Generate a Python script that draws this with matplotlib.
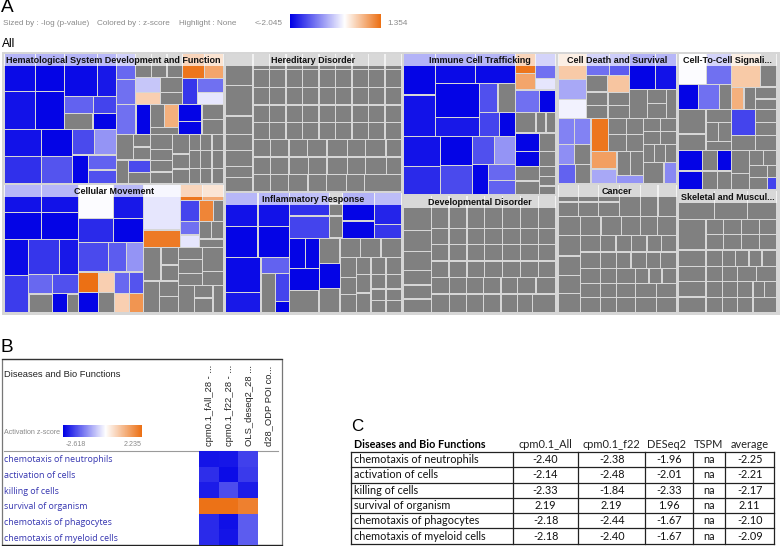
import numpy as np
import matplotlib
matplotlib.use("Agg")
import matplotlib.pyplot as plt
from matplotlib.colors import LinearSegmentedColormap, TwoSlopeNorm
from matplotlib.patches import Rectangle

G = None  # no z-score: grey tile


def H(*a):
    return ("h", list(zip(a[0::2], a[1::2])))


def V(*a):
    return ("v", list(zip(a[0::2], a[1::2])))


def R(*w):
    return ("h", [(x, G) for x in w])


def C(*w):
    return ("v", [(x, G) for x in w])


def E(n):
    return R(*([1] * n))


# Tile trees: weights are the tile sizes (-log p), leaves are z-scores
HEMATOLOGICAL = H(
    337, V(226, H(95, V(113, -1.95, 113, -1.9), 87, V(113, -2.0, 113, -2.0),
                  155, V(128, H(98, -1.95, 57, -1.85),
                         98, H(86, V(52, -1.25, 46, G), 69, V(52, -1.5, 46, -2.0)))),
           162, H(112, V(82, -1.9, 80, -1.65), 93, V(82, -2.0, 80, -1.36),
                  132, V(77, H(68, -1.45, 64, -0.85),
                         85, H(50, -2.0, 82, V(45, -1.25, 40, -1.4))))),
    323, V(153, H(58, V(76, -1.2, 74, -1.15),
                  142, V(70, R(48, 47, 47),
                         80, H(75, V(43, -0.45, 37, 0.45), 67, C(43, 37))),
                  123, V(73, H(65, 1.3, 58, 0.85),
                         77, H(45, -1.6, 78, V(40, -1.15, 37, -0.2)))),
           88, H(60, -1.15, 43, -2.0, 85, V(67, H(43, G, 42, 0.75), 20, G),
                 70, V(49, -2.0, 38, -2.0), 65, C(43, 44)),
           147, H(103, V(77, H(50, G, 48, C(37, 38)),
                         70, H(35, G, 65, V(38, -1.45, 32, G))),
                  65, C(43, 30, 33, 32),
                  50, C(55, 42, 40),
                  102, V(45, E(3), 50, E(3), 42, E(3)))),
)

HEREDITARY = H(
    83, C(93, 90, 55, 47, 47, 32, 40),
    447, V(48, E(9), 52, E(9), 52, E(9), 51, E(9), 52, E(9), 51, R(47, 50, 50, 53, 55, 50, 55, 42),
           52, R(47, 50, 53, 50, 55, 50, 57, 40), 50, R(47, 50, 53, 50, 55, 50, 100)),
)

CELLULAR = H(
    420, H(223, V(162, H(112, V(83, -1.9, 79, -2.0), 111, V(83, -1.9, 79, -2.0)),
                  218, H(75, V(108, -1.95, 110, -1.55),
                         148, V(106, H(92, -1.6, 56, -1.85),
                                112, V(57, H(70, -1.2, 78, -1.4),
                                       55, H(70, G, 45, -2.0, 33, G))))),
           197, V(172, H(107, V(100, -0.03, 72, -1.7), 90, V(100, -1.85, 72, -2.0)),
                  208, V(88, H(90, -1.45, 54, -1.3, 53, -0.85),
                         120, H(60, V(60, 1.35, 60, -2.0), 50, V(60, 0.45, 60, G),
                                87, V(65, H(44, -1.2, 43, -1.36), 55, H(44, 0.45, 43, 1.0)))))),
    240, V(188, H(110, V(135, -0.2, 53, 1.25),
                  130, V(48, H(67, 1.3, 63, 0.8),
                         140, H(57, V(62, -1.5, 40, -1.15, 38, -0.2),
                                73, V(62, H(43, 1.15, 30, G), 52, E(2), 26, G)))),
           192, H(105, V(95, H(52, G, 53, C(48, 45)), 90, H(47, G, 58, C(45, 45))),
                  135, V(110, H(72, C(33, 38, 33), 63, C(68, 40)),
                         78, H(47, G, 56, C(36, 42), 32, G)))),
)

INFLAMMATORY = H(
    192, V(193, H(98, V(100, -1.9, 93, -2.0), 94, V(100, -1.9, 93, -2.0)),
           165, H(107, V(105, -1.95, 60, -1.85),
                  85, V(48, -1.25, 117, H(43, G, 42, V(85, -1.5, 32, -2.0))))),
    338, V(136, H(160, V(70, H(121, -1.65, 39, C(33, 37)), 66, H(121, -1.5, 39, G)),
                  178, H(98, V(85, -2.0, 51, -2.0), 80, V(95, -1.75, 41, -1.6))),
           222, H(153, H(90, V(90, H(50, -2.0, 40, -2.0), 67, -2.0, 65, G),
                         63, V(77, G, 73, -2.0, 72, G)),
                  185, V(57, E(3),
                         165, H(50, C(60, 52, 53), 43, C(52, 55, 58),
                                45, C(52, 43, 35, 35), 47, C(52, 43, 35, 35))))),
)

IMMUNE = H(
    335, V(250, H(97, V(125, -2.0, 125, -1.9),
                  238, V(90, H(120, -1.95, 118, -1.95),
                         160, H(131, V(102, -2.0, 58, -1.85),
                                107, V(88, H(55, -1.4, 52, G), 72, H(59, -1.5, 48, -2.0))))),
           175, H(112, V(90, -1.9, 85, -1.7), 96, V(88, -2.0, 87, -1.45),
                  127, V(85, H(65, -1.4, 62, -0.85),
                         90, H(47, -2.0, 80, V(47, -1.2, 43, -1.25))))),
    122, V(110, H(60, V(58, 1.3, 50, 0.85),
                  62, V(75, -1.15, 35, -0.2)),
           68, H(72, -1.15, 50, -2.0),
           62, R(62, 30, 30),
           185, H(72, V(55, -2.0, 45, -2.0, 45, G, 40, G), 50, C(55, 45, 30, 30, 25))),
)

DEVELOPMENTAL = H(
    83, C(103, 63, 57, 43, 42, 40),
    374, V(98, E(7), 48, E(7), 49, E(7), 50, E(7), 48, R(55, 50, 52, 52, 50, 55, 60),
           55, R(55, 50, 52, 52, 50, 45, 70)),
)

CELL_DEATH = V(
    195, H(85, V(78, 0.5, 60, -0.7, 57, -0.1),
           127, V(65, H(67, -1.15, 60, -1.3),
                  50, H(63, G, 64, 0.55), 40, E(2), 40, E(2)),
           140, V(108, H(78, -2.0, 62, -1.9),
                  87, H(53, G, 57, C(42, 45), 30, G))),
    193, H(98, V(77, H(50, -1.0, 48, -1.0), 60, H(50, -0.9, 48, G), 56, H(52, -1.25, 46, G)),
           157, V(97, H(52, 1.3, 105, V(47, E(2), 50, E(2))),
                  96, H(77, V(53, 0.9, 43, -0.7),
                        80, V(73, E(2), 23, -0.85))),
           97, V(37, E(2), 40, E(2), 53, E(3), 63, H(60, G, 37, -0.95))),
)

CANCER = V(
    97, H(120, V(50, E(2), 43, E(2)), 63, V(50, G, 43, G), 62, G, 52, G, 55, G),
    57, R(66, 60, 60, 55, 51, 55),
    232, H(66, C(62, 58, 55, 57),
           286, V(50, R(59, 45, 45, 45, 42, 44), 50, R(59, 47, 42, 44, 42, 46),
                  44, R(59, 47, 54, 40, 38, 42), 42, R(59, 47, 54, 62, 58),
                  46, R(59, 47, 54, 62, 58))),
)

CELL_TO_CELL = V(
    167, H(161, V(92, H(85, -0.03, 76, -1.15),
                  75, H(61, -2.0, 62, -1.15, 38, G)),
           137, V(100, H(87, 0.5, 50, G),
                  67, H(37, 0.75, 35, G, 65, C(35, 32)))),
    123, H(161, H(83, C(73, 50), 78, V(38, G, 58, E(2), 27, G)),
           137, H(72, V(78, -1.5, 45, G), 65, C(38, 40, 45))),
    115, H(73, V(60, -2.0, 55, -2.0),
           88, V(60, H(45, G, 43, -2.0), 55, E(2)),
           54, C(70, 50),
           83, V(46, E(2), 38, R(55, 28), 36, H(55, G, 28, -1.5))),
)

SKELETAL = V(
    88, R(108, 100, 90),
    92, H(83, G, 215, V(45, E(4), 45, E(4))),
    190, H(83, C(50, 46, 47, 47),
           215, V(50, R(50, 40, 40, 40, 45), 47, R(50, 46, 58, 61),
                  48, R(50, 46, 46, 35, 38), 45, R(50, 46, 46, 73))),
)

CATEGORY_NAMES = [
    ["Hematological System Development and Function", "Cellular Movement"],
    ["Hereditary Disorder", "Inflammatory Response"],
    ["Immune Cell Trafficking", "Developmental Disorder"],
    ["Cell Death and Survival", "Cancer"],
    ["Cell-To-Cell Signali...", "Skeletal and Muscul..."],
]
CATEGORY_TREES = [
    [HEMATOLOGICAL, CELLULAR],
    [HEREDITARY, INFLAMMATORY],
    [IMMUNE, DEVELOPMENTAL],
    [CELL_DEATH, CANCER],
    [CELL_TO_CELL, SKELETAL],
]
COLUMN_SIZES = [221.5, 178, 154.5, 120.5, 100.5]
UPPER_SIZES = [131, 139, 142, 131, 137]
LOWER_SIZES = [129, 121, 118, 129, 123]

Z_MIN_A, Z_MAX_A = -2.045, 1.354
Z_MIN_B, Z_MAX_B = -2.618, 2.235

FUNCTIONS = ["chemotaxis of neutrophils", "activation of cells", "killing of cells",
             "survival of organism", "chemotaxis of phagocytes", "chemotaxis of myeloid cells"]
CPM_ALL = [-2.40, -2.14, -2.33, 2.19, -2.18, -2.18]
CPM_F22 = [-2.38, -2.48, -1.84, 2.19, -2.44, -2.40]
DESEQ2 = [-1.96, -2.01, -2.33, 1.96, -1.67, -1.67]
AVERAGE = [-2.25, -2.21, -2.17, 2.11, -2.10, -2.09]
HEAT_LABELS = ["cpm0.1_fAll_28 - ...", "cpm0.1_f22_28 - ...", "OLS_deseq2_28 ...", "d28_ODP POI co..."]
TABLE_HEAD = ["Diseases and Bio Functions", "cpm0.1_All", "cpm0.1_f22", "DESeq2", "TSPM", "average"]

cmap = LinearSegmentedColormap.from_list(
    "z", [(0, 0, 230 / 255), (1, 1, 1), (236 / 255, 112 / 255, 20 / 255)])
norm_a = TwoSlopeNorm(0, Z_MIN_A, Z_MAX_A)
norm_b = TwoSlopeNorm(0, Z_MIN_B, Z_MAX_B)

SANS = "Liberation Sans"
fig = plt.figure(figsize=(7.8, 5.46), dpi=100)
ax = fig.add_axes([0, 0, 1, 1])
ax.set_xlim(0, 780)
ax.set_ylim(546, 0)
ax.axis("off")


def px(v):
    return v * 0.72


def layout(node, x, y, w, h):
    if not isinstance(node, tuple):
        col = (0.5, 0.5, 0.5) if node is None else cmap(norm_a(node))
        inset = 0.65 if node is None else 0.55
        ax.add_patch(Rectangle((x + inset, y + inset), max(w - 2 * inset, 0.2), max(h - 2 * inset, 0.2),
                               fc=col, ec="none", lw=0))
        return
    kind, kids = node
    tot = sum(k[0] for k in kids)
    for wt, child in kids:
        if kind == "h":
            d = w * wt / tot
            layout(child, x, y, d, h)
            x += d
        else:
            d = h * wt / tot
            layout(child, x, y, w, d)
            y += d


# Panel A
ax.text(1, 8, "A", fontsize=px(19), family=SANS, va="center", ha="left")
grey = "#8a8a8a"
for xt, t in [(3, "Sized by : -log (p-value)"), (97, "Colored by : z-score"),
              (179, "Highlight : None"), (255, "<-2.045"), (387, "1.354")]:
    ax.text(xt, 23.5, t, fontsize=px(8.1), color=grey, family=SANS, va="center", ha="left")
ramp_a = np.linspace(Z_MIN_A, Z_MAX_A, 256)[None, :]
ax.imshow(ramp_a, cmap=cmap, norm=norm_a, extent=(289.5, 380, 28.5, 15), aspect="auto", zorder=2)
ax.text(2, 44, "All", fontsize=px(12), family=SANS, va="center", ha="left")

ax.add_patch(Rectangle((1.5, 51.5), 778, 263.5, fc="#d6d6d6", ec="none"))
x0 = 3.0
for i, cw in enumerate(COLUMN_SIZES):
    y0 = 53.0
    for sz, name, tree in zip([UPPER_SIZES[i], LOWER_SIZES[i]], CATEGORY_NAMES[i], CATEGORY_TREES[i]):
        layout(tree, x0 + 1.0, y0 + 0.6, cw - 2.0, sz - 1.2)
        ax.add_patch(Rectangle((x0 + 1.0, y0 + 0.6), cw - 2.0, 12.5, fc="white", ec="none",
                               alpha=0.7, zorder=3))
        ax.text(x0 + cw / 2, y0 + 7.6, name, fontsize=px(9.0), fontweight="bold", family=SANS,
                ha="center", va="center", zorder=4, color="#111111")
        y0 += sz
    x0 += cw

# Panel B
ax.text(1, 348, "B", fontsize=px(19), family=SANS, va="center", ha="left")
ax.add_patch(Rectangle((1.5, 359), 280.5, 186, fc="none", ec="#777777", lw=0.9))
ax.plot([1.5, 282], [359, 359], color="#333333", lw=0.9)
ax.plot([1.5, 282], [545, 545], color="#222222", lw=0.9)
ax.text(4.5, 374.5, "Diseases and Bio Functions", fontsize=px(9.4), family=SANS, va="center", ha="left",
        color="#222222")
ax.text(4.5, 432, "Activation z-score", fontsize=px(7.2), family=SANS, va="center", ha="left", color=grey)
ramp_b = np.linspace(Z_MIN_B, Z_MAX_B, 256)[None, :]
ax.imshow(ramp_b, cmap=cmap, norm=norm_b, extent=(63.3, 142, 437, 425), aspect="auto", zorder=2)
ax.text(76, 444, "-2.618", fontsize=px(7.2), family=SANS, va="center", ha="center", color=grey)
ax.text(133, 444, "2.235", fontsize=px(7.2), family=SANS, va="center", ha="center", color=grey)
ax.plot([4, 278], [450.7, 450.7], color="#9a9a9a", lw=0.8)
heat = np.array([CPM_ALL, CPM_F22, DESEQ2], dtype=float).T
ax.imshow(heat, cmap=cmap, norm=norm_b, extent=(199.3, 258.3, 545, 451), aspect="auto",
          interpolation="nearest", zorder=2)
for k, lab in enumerate(HEAT_LABELS):
    ax.text(210 + k * 19.6, 446, lab, rotation=90, fontsize=px(9.4), family=SANS, va="bottom", ha="center",
            color="#222222")
for k, f in enumerate(FUNCTIONS):
    ax.text(4.5, 459.8 + k * 15.65, f, fontsize=px(8.85), family="Open Sans", va="center", ha="left",
            color="#3535b0")

# Panel C
ax.text(351, 426.5, "C", fontsize=px(17), family=SANS, va="center", ha="left")
col_edges = [351, 512.7, 578.3, 645, 692.7, 725, 774.3]
row_edges = [451.7, 467.3, 482.7, 498.3, 513.3, 528.3, 544.3]
for xe in col_edges:
    ax.plot([xe, xe], [row_edges[0], row_edges[-1]], color="#222222", lw=0.9)
for ye in row_edges:
    ax.plot([col_edges[0], col_edges[-1]], [ye, ye], color="#222222", lw=0.9)
head_centres = [545.5, 611, 667, 708, 750]
TFONT = "Lato"
ax.text(353.5, 444, TABLE_HEAD[0], fontsize=px(10.8), fontweight="bold", family=TFONT, va="center", ha="left")
for c, t in zip(head_centres, TABLE_HEAD[1:]):
    ax.text(c, 444, t, fontsize=px(11), family=TFONT, va="center", ha="center", color="#222222")
for k, f in enumerate(FUNCTIONS):
    yc = (row_edges[k] + row_edges[k + 1]) / 2
    ax.text(353.5, yc, f, fontsize=px(10.9), family=TFONT, va="center", ha="left", color="#111111")
    vals = [CPM_ALL[k], CPM_F22[k], DESEQ2[k], None, AVERAGE[k]]
    for c0, c1, v in zip(col_edges[1:-1], col_edges[2:], vals):
        ax.text((c0 + c1) / 2, yc, "na" if v is None else f"{v:.2f}", fontsize=px(10.9), family=TFONT,
                va="center", ha="center", color="#111111")

ax.set_xlim(0, 780)
ax.set_ylim(546, 0)
fig.savefig("out.png", dpi=100)
